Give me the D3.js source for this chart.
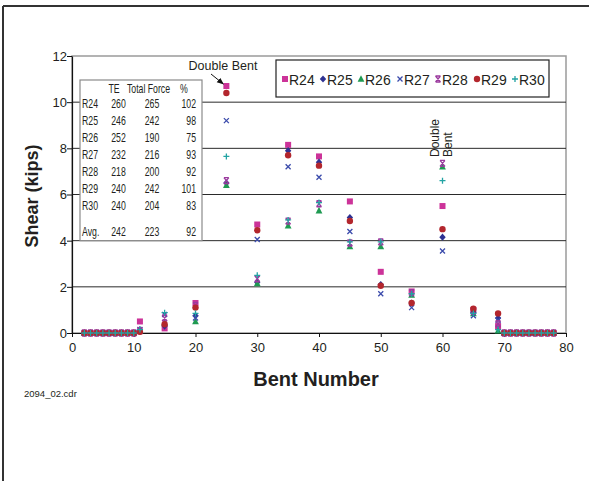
<!DOCTYPE html>
<html>
<head>
<meta charset="utf-8">
<script src="https://cdn.jsdelivr.net/npm/d3@7"></script>
<style>
  html, body { margin: 0; padding: 0; background: #fff; }
  svg { display: block; }
  text { font-family: "Liberation Sans", Arial, sans-serif; fill: #231f20; }
</style>
</head>
<body>
<svg id="chart" width="589" height="481"></svg>
<script>
// ---- data ----
const bents = [2,3,4,5,6,7,8,9,10,11,15,20,25,30,35,40,45,50,55,60,65,69,70,71,72,73,74,75,76,77,78];
const z9 = [0,0,0,0,0,0,0,0,0];
const r24 = [...z9, 0.5, 0.2, 1.3, 10.7, 4.7, 8.15, 7.65, 5.7, 2.65, 1.8, 5.5, 1.0, 0.3, ...z9];
const r25 = [...z9, 0.15, 0.3, 0.75, 6.5, 2.2, 7.9, 7.4, 5.0, 2.1, 1.3, 4.15, 0.9, 0.65, ...z9];
const r26 = [...z9, 0.1, 0.45, 0.5, 6.4, 2.15, 4.65, 5.3, 3.75, 3.75, 1.65, 7.2, 0.85, 0.1, ...z9];
const r27 = [...z9, 0.15, 0.8, 0.65, 9.2, 4.05, 7.2, 6.75, 4.4, 1.7, 1.1, 3.55, 0.75, 0.55, ...z9];
const r28 = [...z9, 0.1, 0.65, 1.2, 6.6, 2.35, 4.85, 5.6, 3.9, 3.95, 1.75, 7.35, 0.95, 0.4, ...z9];
const r29 = [...z9, 0.05, 0.38, 1.1, 10.4, 4.45, 7.7, 7.25, 4.85, 2.05, 1.3, 4.5, 1.05, 0.85, ...z9];
const r30 = [...z9, 0.15, 0.88, 0.85, 7.65, 2.5, 4.9, 5.65, 3.95, 3.95, 1.7, 6.6, 0.85, 0.15, ...z9];

const seriesNames = ["R24","R25","R26","R27","R28","R29","R30"];
const seriesValues = [r24, r25, r26, r27, r28, r29, r30];

const xTicks = [0,10,20,30,40,50,60,70,80];
const yTicks = [0,2,4,6,8,10,12];

const tableHeader = ["TE", "Total Force", "%"];
const tableRows = ["R24","R25","R26","R27","R28","R29","R30"];
const tableTE = [260, 246, 252, 232, 218, 240, 240];
const tableForce = [265, 242, 190, 216, 200, 242, 204];
const tablePct = [102, 98, 75, 93, 92, 101, 83];
const tableAvg = ["Avg.", 242, 223, 92];

// ---- styles ----
const colors = ["#cc3399", "#2e3192", "#1f9a52", "#3a4aab", "#9b3a9e", "#b3262d", "#22a3a3"];
const shapes = ["square", "diamond", "triangle", "x", "star", "circle", "plus"];

const svg = d3.select("#chart");
const L = 72, R = 566, T = 56, B = 333;
const x = d3.scaleLinear().domain([0, 80]).range([L, R]);
const y = d3.scaleLinear().domain([0, 12]).range([B, T]);

// page frame
svg.append("line").attr("x1", 3).attr("x2", 3).attr("y1", 6).attr("y2", 481).attr("stroke", "#333").attr("stroke-width", 2);
svg.append("line").attr("x1", 3).attr("x2", 589).attr("y1", 6).attr("y2", 6).attr("stroke", "#333").attr("stroke-width", 2);

// plot border (grey)
svg.append("rect").attr("x", L).attr("y", T).attr("width", R - L).attr("height", B - T)
  .attr("fill", "none").attr("stroke", "#9a9a9a").attr("stroke-width", 1.5);

// gridlines
svg.append("g").selectAll("line").data(yTicks.filter(d => d > 0 && d < 12)).join("line")
  .attr("x1", L).attr("x2", R).attr("y1", d => y(d)).attr("y2", d => y(d))
  .attr("stroke", "#2a2a2a").attr("stroke-width", 1);

// axes
const xAxis = svg.append("g").attr("transform", `translate(0,${B})`)
  .call(d3.axisBottom(x).tickValues(xTicks).tickSize(4).tickSizeOuter(0));
const yAxis = svg.append("g").attr("transform", `translate(${L},0)`)
  .call(d3.axisLeft(y).tickValues(yTicks).tickSize(5).tickSizeOuter(0));
[xAxis, yAxis].forEach(a => {
  a.select(".domain").attr("stroke", "#111").attr("stroke-width", 1.2);
  a.selectAll(".tick line").attr("stroke", "#111");
  a.selectAll(".tick text").attr("font-family", "Liberation Sans, Arial, sans-serif")
    .attr("font-size", 13).attr("fill", "#231f20");
});
xAxis.selectAll(".tick text").attr("dy", "0.9em");
yAxis.selectAll(".tick text").attr("dy", "0.34em").attr("x", -5);

// table box
const tb = svg.append("g");
tb.append("rect").attr("x", 80).attr("y", 80).attr("width", 122).attr("height", y(4) - 80)
  .attr("fill", "#fff").attr("stroke", "#8a8a8a").attr("stroke-width", 1.2);
function tText(px, py, anchor, str) {
  tb.append("text").attr("transform", `translate(${px},${py}) scale(0.7,1)`)
    .attr("text-anchor", anchor).attr("font-size", 12.5).text(str);
}
tText(114, 93, "middle", tableHeader[0]);
tText(148.5, 93, "middle", tableHeader[1]);
tText(184, 93, "middle", tableHeader[2]);
const rowY = d3.scaleLinear().domain([0, 6]).range([108, 210]);
tableRows.forEach((r, i) => {
  const yy = rowY(i);
  tText(82, yy, "start", r);
  tText(118.5, yy, "middle", tableTE[i]);
  tText(152, yy, "middle", tableForce[i]);
  tText(196, yy, "end", tablePct[i]);
});
tText(82, 236, "start", tableAvg[0]);
tText(118.5, 236, "middle", tableAvg[1]);
tText(152, 236, "middle", tableAvg[2]);
tText(196, 236, "end", tableAvg[3]);

// marker drawing
function drawMarker(g, shape, color, cx, cy) {
  const s = 3;
  if (shape === "square") {
    g.append("rect").attr("x", cx - s).attr("y", cy - s).attr("width", 2 * s).attr("height", 2 * s).attr("fill", color);
  } else if (shape === "diamond") {
    g.append("path").attr("d", `M${cx},${cy - 3.6}L${cx + 3.2},${cy}L${cx},${cy + 3.6}L${cx - 3.2},${cy}Z`).attr("fill", color);
  } else if (shape === "triangle") {
    g.append("path").attr("d", `M${cx},${cy - 3.8}L${cx + 3.4},${cy + 2.8}L${cx - 3.4},${cy + 2.8}Z`).attr("fill", color);
  } else if (shape === "circle") {
    g.append("circle").attr("cx", cx).attr("cy", cy).attr("r", 3.2).attr("fill", color);
  } else if (shape === "x") {
    g.append("path").attr("d", `M${cx - 2.5},${cy - 2.5}L${cx + 2.5},${cy + 2.5}M${cx + 2.5},${cy - 2.5}L${cx - 2.5},${cy + 2.5}`)
      .attr("stroke", color).attr("stroke-width", 1.3).attr("fill", "none");
  } else if (shape === "star") {
    g.append("path").attr("d", `M${cx - 2.5},${cy - 3}L${cx + 2.5},${cy + 3}M${cx + 2.5},${cy - 3}L${cx - 2.5},${cy + 3}M${cx - 2.5},${cy - 3}L${cx + 2.5},${cy - 3}M${cx - 2.5},${cy + 3}L${cx + 2.5},${cy + 3}`)
      .attr("stroke", color).attr("stroke-width", 1.3).attr("fill", "none");
  } else if (shape === "plus") {
    g.append("path").attr("d", `M${cx - 3},${cy}L${cx + 3},${cy}M${cx},${cy - 3}L${cx},${cy + 3}`)
      .attr("stroke", color).attr("stroke-width", 1.3).attr("fill", "none");
  }
}

// data points
const pts = svg.append("g");
seriesValues.forEach((vals, si) => {
  const g = pts.append("g").attr("class", "series-" + seriesNames[si]);
  vals.forEach((v, i) => drawMarker(g, shapes[si], colors[si], x(bents[i]), y(v)));
});

// legend
const lg = svg.append("g");
lg.append("rect").attr("x", 276).attr("y", 60).attr("width", 273).attr("height", 37)
  .attr("fill", "#fff").attr("stroke", "#222").attr("stroke-width", 1.2);
const legX = [285, 323, 361, 400, 438, 477, 515];
seriesNames.forEach((n, i) => {
  const g = lg.append("g");
  drawMarker(g, shapes[i], colors[i], legX[i], 79);
  g.append("text").attr("x", legX[i] + 4).attr("y", 85).attr("font-size", 14).text(n);
});

// annotations
svg.append("text").attr("x", 223).attr("y", 70).attr("text-anchor", "middle").attr("font-size", 12.5).text("Double Bent");
svg.append("defs").append("marker").attr("id", "arr").attr("viewBox", "0 0 10 10").attr("refX", 9).attr("refY", 5)
  .attr("markerWidth", 7).attr("markerHeight", 7).attr("orient", "auto")
  .append("path").attr("d", "M0,1L10,5L0,9Z").attr("fill", "#111");
svg.append("line").attr("x1", 211).attr("y1", 74).attr("x2", x(25) - 3).attr("y2", y(10.7) - 2)
  .attr("stroke", "#111").attr("stroke-width", 1).attr("marker-end", "url(#arr)");

const vt = svg.append("text").attr("transform", `translate(${x(60) - 3.5},157) rotate(-90)`).attr("font-size", 12);
vt.append("tspan").attr("x", 0).attr("dy", 0).text("Double");
vt.append("tspan").attr("x", 0).attr("dy", 12.5).text("Bent");

// axis titles
svg.append("text").attr("transform", "translate(38,196) rotate(-90)").attr("text-anchor", "middle")
  .attr("font-size", 18).attr("font-weight", "bold").text("Shear (kips)");
svg.append("text").attr("x", 316).attr("y", 386).attr("text-anchor", "middle")
  .attr("font-size", 20).attr("font-weight", "bold").text("Bent Number");
svg.append("text").attr("x", 24).attr("y", 397).attr("font-size", 9.5).text("2094_02.cdr");
</script>
</body>
</html>
